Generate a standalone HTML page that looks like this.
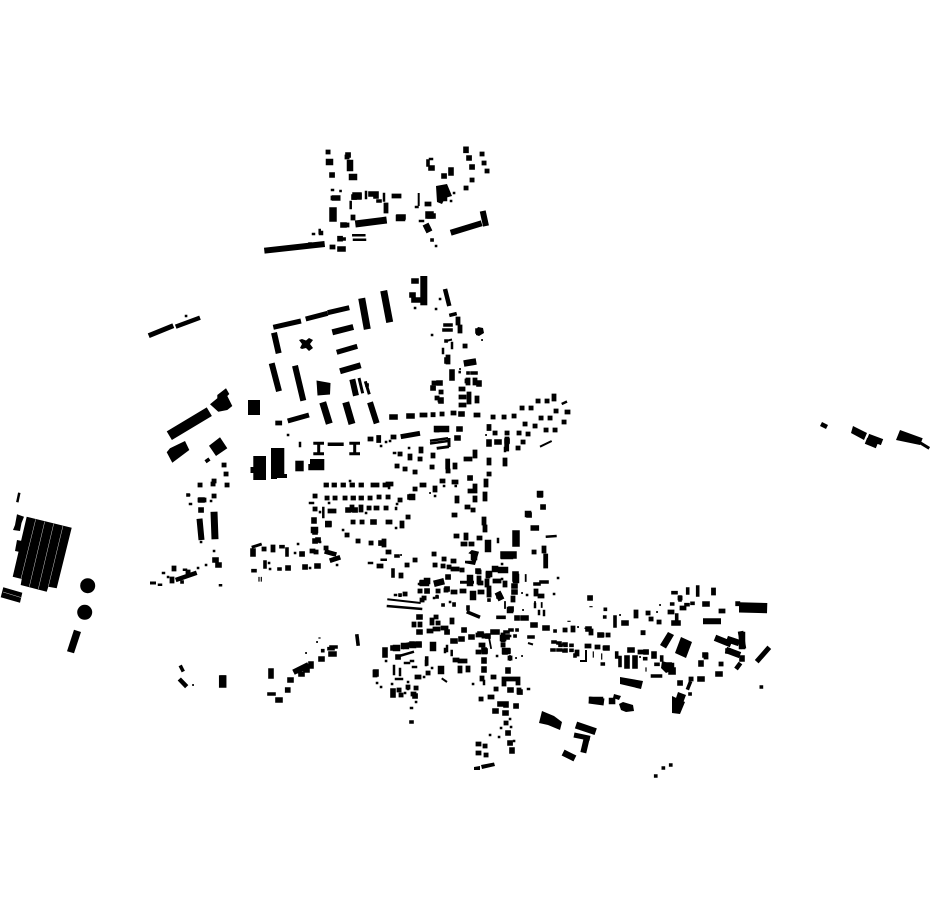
<!DOCTYPE html>
<html><head><meta charset="utf-8"><style>html,body{margin:0;padding:0;background:#fff}svg{display:block}</style></head>
<body>
<svg xmlns="http://www.w3.org/2000/svg" width="930" height="924" viewBox="0 0 930 924">
<rect width="930" height="924" fill="#fff"/>
<g fill="#000" stroke="none">
<polygon points="26.7,516.7 71.7,527.7 56.7,588.3 48.3,586.7 46.7,591.7 20.7,585 21.7,579 12.7,576.7"/>
<polygon points="17,540 22,541 20,552 15,551"/>
<polygon points="17,514.3 24,516.7 21.5,523 20,531 13,530 15,525"/>
<polygon points="3.3,587.3 22.3,592.7 20,602.7 .7,597.3"/>
<polygon points="74,629.7 81,632 74,653.3 67,651.3"/>
<circle cx="87.7" cy="585.7" r="7.5"/><circle cx="84.7" cy="612.3" r="7.5"/>
<polygon points="210,404.3 217.3,398.3 217.3,395 226,388.3 229.3,394 227.3,396 232.3,406 227.3,410 218.3,411.7"/>
<polygon points="166.7,452.3 170,448.3 185,441 189.3,450 172.3,462.7"/>
<polygon points="209,445.7 220,437.3 227.3,448.3 216,456"/>
<rect x="248" y="400" width="12" height="15"/>
<path d="M253.3 456H266V480H253.3V473H250.5V467H253.3Z"/>
<path d="M271 448H284.3V474H287V478H277V479H271Z"/>
<rect x="295.3" y="460.7" width="8.4" height="10.6"/>
<path d="M310 459H324.3V470.3H308.3V464H310Z"/>
<polygon points="316.5,380.5 330.5,383 330,394.5 317.5,395.5"/>
<path d="M302 339l4 1.500 3-2.500 4 2-3 4 3 4-4 3-3-3-4 1-2-1 2-4-3-4z"/>
<rect x="420.3" y="276" width="7" height="29.300"/>
<polygon points="478,327 483,328 484,333 479,336 476,335 476,330"/>
<polygon points="471.7,550 479,551.7 475,565 465,563.3 465,560.7 471.7,560.7 473.3,555 468.3,553.3"/>
<polygon points="739,602.300 767.300,603 767,613.300 739,612.500"/>
<polygon points="900,430 922.700,438.300 920,445 896,440"/>
<polygon points="668,632 674,635 666,648.500 660,645"/>
<polygon points="681,637 692,642 686,658 675,653"/>
<polygon points="672,696 685,702 680,714 672,713"/>
<polygon points="678,692 686,695 683,703 675,701"/>
<polygon points="620,677 643,681 641,689 620,684"/>
<polygon points="662,661 672,664 673,670 666,673 661,668"/>
<polygon points="436,186 447,184 452,196 445,198 442,204 437,202"/>
<polygon points="542,711 554,716 562,722 560,730 548,725 539,723"/>
<polygon points="619,704 623,702 633,705 634,711 626,712 621,710"/>
<polygon points="614,694 621,696 619,700 613,698"/>
<polygon points="853,426 867,433 864,440 851,433"/>
<polygon points="822,422 828,425 826,429 820,426"/>
<polygon points="481,765 494,762.500 495,766 482,769"/>
<polygon points="474,767 480,766 480,770 474,770"/>
</g>
<g fill="none" stroke="#000">
<path stroke-width=".5" stroke="#ccc" d="M35.700 519.300L20.700 580M44.700 521.700L29.300 586.700M53.700 523.700L38.300 589M63 525.700L48.300 586.700M3 592L21 597.500"/>
<path stroke-width="2" d="M387.300 599.300L420.700 603M446 341L452 339.500M528 643L533 644.500M540 446.700L551.700 441M586 650V662M580 661H586M441.700 678.300L447 682M418.700 193V206"/>
<path stroke-width="2.500" d="M386.700 606L422.300 609M399.300 656L414 651.700M19.300 492.700L17.300 502.300M545.700 536.700L556.700 536M561.700 404L567 401.500M430 440.700L448 438.300M430 443.500L448 441"/>
<path stroke-width="3" d="M449 438V447M436.700 448.300L449 446.700M251.700 547.300L261.700 544M313.300 443.300H324M313.300 453.700H324M318.700 443V454M349.300 443.300H360M349.300 453.700H360M354.700 443V454M460 582.300H474M920 442.700L929.300 448.300M359 378L362.700 393.300M365.300 381.300L369.300 394.300M150 583H156"/>
<path stroke-width="3.500" d="M327.700 444.300H343.700M466.700 611.700L480 617.300"/>
<path stroke-width="4.500" d="M445 289L449.300 306M175.700 326.700L200 317.700M175.700 580L196.700 572.700M179.300 679L186.700 686.700M736 669L740.500 663"/>
<path stroke-width="5" d="M148.700 335.700L173.300 325.700M273.300 327.300L301 321M305.700 319L327.700 313.300M327.700 312.700L349.300 307.700M336.700 352.300L357.300 346.300M287.700 421L309 415M400.700 436.700L420 433.300M756.700 661.700L769.300 647.300M574 735L590 738.300"/>
<path stroke-width="6" d="M264.300 250.700L324.700 244M450.700 232.700L481.700 223.300M482.700 211L486 226M332.300 332.300L353.300 327M274 332.700L278.700 353.300M271.700 363.300L279 391.300M295 365.700L303.300 400.700M340 371.300L360.700 365.300M352.300 379.300L356 395.700M370 402.300L376.700 423.300M199.500 518.700L201.500 540M583.300 752.700L586.700 738.300M703 621.300H721"/>
<path stroke-width="7" d="M355.300 224L386.700 220M361.700 298.300L367.300 329.300M383.700 290.700L389.700 322.300M322.700 402.300L329.300 423.700M345.700 402.300L352 424M214 511.700L215 539.300M576 725L595.700 731.700M589 700L604 702"/>
<path stroke-width="10" d="M169.300 435.700L209.300 411.700"/>
</g>
<g fill="none" stroke="#000" stroke-linecap="square">
<path stroke-width="1.200" d="M470 580h.1M590 606.700h2M568 621.300h2M585 628.300L590 630M601.700 654v5M593.300 652v5M646 668v3M319 638h1M259 577.500v3.500M261.300 577.500v3.500"/>
<path stroke-width="1.800" d="M460 369h.1M430 493h.1M486 435h.1M401 555h.1M578 627h.1M660 605h.1M657 612h.1M640 657h.1M620 615h.1M306 653h.1M317 642h.1M193 685h.1M482 340h.1M523 610h.1M522 593h.1M525.700 575v6M535 602v5M541.700 603v4M505 602v6M510 656v4M516 658h.1M522 656h.1M489.300 639L491 648"/>
<path stroke-width="2.500" d="M186 316h.1M288 435h.1M350 481h.1M389 488h.1M381 446h.1M386 442h.1M390 441h.1M395 453h.1M415 308h.1M440 299h.1M436 309h.1M409 448h.1M394 453h.1M444 486h.1M435 496h.1M397 504h.1M396 508h.1M396 528h.1M329 503h.1M366 513h.1M396 509h.1M343 530h.1M320 542h.1M298 544h.1M295 553h.1M337 565h.1M269 563h.1M270 569h.1M310 568h.1M419 584h.1M419 592h.1M189 495h.1M211 501h.1M201 542h.1M214 551h.1M206 565h.1M198 568h.1M168 577h.1M377 683h.1M381 687h.1M392 684h.1M408 682h.1M405 693h.1M416 702h.1M434 598h.1M437 596h.1M454 604h.1M450 602h.1M473 684h.1M497 656h.1M386 661h.1M412 644h.1M424 677h.1M432 668h.1M510 719h.1M501 728h.1M511 727h.1M514 741h.1M490 735h.1M499 737h.1M528 689h1M558 578h.1M554 594h.1M527 595h.1M510 636h.1M322 232v2M320 234h.1M451 201h.1M454 193h.1M416 207h1.500M420 221h3M430 159h2M436 246h.1M320 512v.1M323.300 508v9M459.700 372v.1M310 503h3M190 504h1M163 573h1M184 569.700h2M159 584.700h2M220 585.300h1M502 564h.1M498 539v3M495 433h.1M395 595h1M400 595.700h.1M502 579h.1M450 602h.1M381.700 559.700h4M369 563h3M340.500 191h.1M332 190h1M366 192v6M384 194v6.500M350.700 202v6M319.700 230v3M313 234h1M353.300 235.300h11M354 239.700h11M505 448v3M443 349v4M452 343v5M411 708h1M432 335h.1M300 443v3M455.700 486h.1M405 663h4M411 661h2M413 667h3M426 661v4M394 666v8M400 669v6M396 679h6M408 687v2M445 649v3M447 646v5M451.700 651v4M484 681v3M535 604v3M539 611v3M544 611v4"/>
<path stroke-width="3.600" d="M411 722h1M378 201h2M468 373h.1M472 373h4M445 325h6M444 330h7M207 460.700L208 460M451 315l4-1M310 244h.1M344 239h.1M454 604h.1M188 495h.1M331 647L336 647M489 600v.1M505 632h3M510 630h2M517 630h.1M515 636h.1M529 637h4M541 582h6M535 584h4M468 607v2M443 605h.1M498 617.300h6M454 605h.1M555 631h.1M553 642h2M558 643h2M564 644h2M552 650h2M558 650h2M564 651h2M571 645.300h1M565 645.300h1M560 645.300h1M571 650.300h1M565 650h1M560 650h1M602.300 664h1M575 655v1M605.300 609.300h.1M604.700 617h.1M615 617v9M680 597v3M676.700 615v4M687.700 589v4M697.700 587v8M686 604.700h2M692 603.300h1M671.700 604h1M673 592.700h3M655.700 776h.1M663.300 768h.1M670.700 765h.1M761.300 687h.1M690 683l-2 5M690 694h.1M661.700 657v3M656 664.300h2M652.500 676h8M644.700 658.700h1M620 657.500v8M616.700 653v4M281 546.700h2M287 549v6M279 569h1M265 562v5M253 570.700h2M396 556h2M400 595h.1M393 570v6M437 597h.1M426.700 658v6M296.700 670.700h3M269 694h5M322.700 650.700h.1M329 648.700h4M357 636l1 8M181 667l1.500 3M428 161v4M446 341h.1M182 582h.1M367 385h.1M432 240h.1"/>
<path stroke-width="4.800" d="M328 152h.1M333 198h5M343 225h4M332 247h1M353 217v1M386 205v6M394 196h5M482 154h.1M484 163h.1M487 171h.1M427 204h2M347 157h.1M466 188h.1M472 180h.1M277.700 423h2M393 417h.1M214 481h.1M226 474h.1M224 465h.1M213 484h.1M200 485h.1M227 485h.1M326 485h.5M334 485h.5M343 485h.5M352 485h.5M361 485h.5M373 485h4M385 485h3M370 439h1M378.700 437.500v3M393 437h1M397 466h.1M458 319v4M460 327v4M465 346h.1M448 357v5M467 381h.1M468 380v3M475 380v3M434 383h5M433 388h.1M441 392h.1M440 400h1M437 398h.1M461 397h3M469 394v8M477 398v3M461 389h2M461 405h3M442 414h.1M433 414.700h.1M422 415h3M453 413h1M476 415h2M493 417h.1M504 417h.1M514 416h.1M522 408h.1M531 408h.1M538 401h.1M547 401h.1M554 396v3M567 412h1M556 411h.1M550 418h.1M541 418h.1M564 422h.1M555 430h.1M546 430h.1M535 426h.1M525 424h.1M528 434h.1M519 433h.1M523 442h.1M518 448h.1M507 433h.1M495 433h.1M489 426.500v2M507 439v3M506.700 446v3M421 449v2M400 454h.1M410 456v2M420 459h.1M397 466h.1M405 469h.1M415 472h.1M432 467h.1M433 455v1M447.700 461v6M448 471h.1M455 465v2M475 452v4M466 459h4M489 460v3M505 460v4M489 474h.1M486 481v4M485 494v5M454 482h2M442 481h1M435 488v2M475 486v5M470 491h2M475 498v2M457 498v3M422 485h2M415 489h.1M400 500h.1M388 497h.1M386 508h.1M388 484h3M454 515h1M467 507h1M473 510h.1M484 519v4M485 527v3M388 522h1M408 517h.1M402 523v3M437 429v1M315 496h.1M315 509h.1M327 498h.1M335 498h.1M345 498h.1M353 498h.5M361 498h.5M370 498h.1M379 497h.1M388 497h.1M330 511h4M352 507v3M361 507v3M369 508h.1M376 508h1M386 508h.1M353 522h.1M362 522h.1M389 522h1M347 535h.1M358 541h.1M326 548h.1M316 552h.1M371 543h.1M384 541v4M388 552h1M415 560h.1M407 565h.1M379 566h2M401 575v1M264 549h.1M273 547v3M312 551h1M327 552l7 2M332 560l6-2M188 572h.1M172 579v2M174 568v1M200 500h4M214 496h.1M460 661h.1M375 672v3M385 651v3M399 690h.1M401 695h.1M408 687v.1M416 688h.1M413 694h1M417 677h2M428 673h.1M455 660h2M463 661h2M460 668v3M468 668v2M482 678v1M493 677h1M496 689h.1M490 697h2M481 699h.1M503 635v2M503 640h.1M503 645h.1M506 723h.1M485 746h.1M486 755h.1M478 744h1M478 753h1M510 658v.1M519 690v2M504 684v-3M518 680v3M504 679h14M432 620v3M436 617h.1M414 624v1M420 624v1M438 623h.1M429 631h2M435 629h3M443 628h3M452 620v2M405 594h.1M446 590v.1M420 591h.1M424 598h.1M438 591h.1M453 592h2M462 591h2M480 592h2M489 588v4M489 595h.1M513 598v2M479 572h.1M488 574v2M434 554h.1M444 559h.1M453 561h1M435 565h.1M443 566h.1M449 567h.1M453 569h.1M457 569h.1M462 570h.1M479 578v4M480 583h1M487 581v4M495 581h4M505 583v2M534 552h.1M544 548v3M545.700 556v4M545.700 562v4M536 591v3M540 596h2M422 600h.1M481 645h2M484 652h1M478 652h1M478 635h4M484 636v.1M507 637h.1M456 536h1M466 535v3M463 544h2M471 544h1M479 538h1M565 630h.1M573 628v2M591 631v2M600 635h2M608 635h.1M643 632.700h.1M648 613h.1M651 619h.1M659 622h.1M680 598h.1M706 655v2M721 664h.1M642 652h1M605 648h2M597 647h1M587 646h2M577 652v2M640 652h.1M682 608h2M670 612h2M636 612v4M713.500 590v3M721 611h2M737.700 603.700h.1M691 679h.1"/>
<path stroke-width="5.600" d="M466 149.300v1M469 158h.1M472 167h.1M332 175h.1M348 155h.1M371 194h.1M376 194v2M444 176h.1M431 168h1M451 170v3M430 216h3M340 249h3M356 196h3M399 217h4M343 225h1M354 197v.1M340 238.700h.1M334.700 198h3M412 295h1M414 281h2M414 300h4M478 331h.1M470 478h.1M447 360v1M452 372v6M479 383v1M392 417h3M409 416h3M461 414h1M459 429h1M457 438h1M433 388h.1M441 400v1M439 383h1M489 442v2M497 442h2M507 441h.1M348 510h.1M314 520v1M328 524h1M373 522h1M315 530v2M318 540h.1M355 510h.1M302 554h.1M317 566h1M305 567h.1M288 568h.1M253 551v3M315 541h.1M381 543v.1M410 497h1M201 510h.1M201 500h1M215 560h1M218 565h1M405 646l2-.500M393 648h2M385 650v3M412 644h.1M441 670v1M398 657h.1M418 644h1M433 645v3M447 632h.1M419 617h1M419 632h1M422 583h4M427 591h.1M473 595v1M505 651v1M508 670v1M484 650h.1M480 634h1M471 637h1M461 639h1M453 641h2M488 636v.1M484 660v1M484 669v1M507 637h.1M545 628h2M533 625h2M493 632h4M464 630h.1M517 618h.1M523 618h3M511 609h.1M419 645h.1M478 571v.1M448 577h.1M505 651h3M485 651h.1M515 574h1M515 579h1M514 586h1M514 592h1M447 589h.1M499 596h.1M516 706h.1M520 692v.1M510 690h1M506 704v1M500 704h1M495 711h1M505 713h1M508 733h.1M510 743h.1M512 750v1M393 691v4M415 696h.1M376 672v2M385 652v3M590 598h.1M705 655h.1M701 663v1M700 679h2M718 674h2M680 683h.1M742 658v1M741 634L743 646M624 623h2M630 650h2M627 658v8M635 658v8M669 665h.1M646 652h.1M654 654v2M588 629h1M600 635h1M705 604h2M674 623h4M606 648h1M728 651h.1M290 680h1M287.700 690h.1M271 671v5M306 670h1M311 664v2M321 659h1M331 654h3M278 700h2M223 678v6M296 671l10-5M301 674h1M529 515h.1M533.300 528h3M540 495h.1M543 507h.1M258 464h.1"/>
<path stroke-width="6.500" d="M329 162h1M350 163v5M352 177h2M443 198h1M427 227l1 2M328.300 524v.1M314 530h1M413 645h.1M404 646h2M396 648h1M433 645v3M467 363l6-1M423 583h3M437 583l4-1M489 574h.1M516 577v3M501 570h4M510 610h.1M473 594v3M499 595l1 2M441 669v2M505 651h2M495 569h.1M503 638h.1M668 666h3M612 701h.1M729 651l8 3M718 639l10 4M566 754l6 3M437 429h9M474 555v2M488 543v6M516 535v8M504 556h6M427 581h.1M399 218h3M412 497h.1M528 514h.1M540 494h.1M871 438l8 3M869 442l5 2M730 640l6 2M742 635v11M592 700h8M470 578v5"/>
<path stroke-width="7.500" d="M333 211v7M356 196h2M429 215h1M672 671h.1M516 534v9M504 555h9M222.700 679v5"/>
</g>
</svg>
</body></html>
